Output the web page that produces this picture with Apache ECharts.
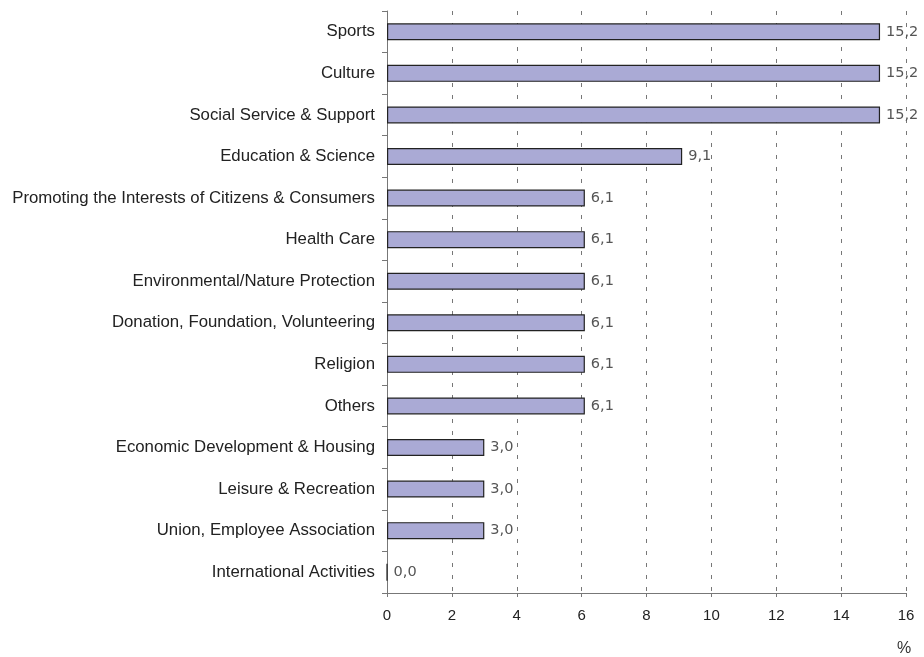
<!DOCTYPE html>
<html><head><meta charset="utf-8">
<script src="https://cdn.jsdelivr.net/npm/echarts@6/dist/echarts.min.js"></script>
<style>html,body{margin:0;padding:0;background:#fff}#c{width:924px;height:657px}</style>
</head><body><div id="c"></div>
<script>
const categories = ["Sports","Culture","Social Service & Support","Education & Science","Promoting the Interests of Citizens & Consumers","Health Care","Environmental/Nature Protection","Donation, Foundation, Volunteering","Religion","Others","Economic Development & Housing","Leisure & Recreation","Union, Employee Association","International Activities"];
const values = [15.2,15.2,15.2,9.1,6.1,6.1,6.1,6.1,6.1,6.1,3.0,3.0,3.0,0.0];
const xTicks = [0,2,4,6,8,10,12,14,16];
const unitLabel = "%";

const chart = echarts.init(document.getElementById('c'));
chart.setOption({
  animation:false,
  grid:{left:387,right:18,top:11,bottom:64,containLabel:false,outerBoundsMode:'none'},
  xAxis:{type:'value',min:xTicks[0],max:xTicks[xTicks.length-1],interval:2,
    axisLine:{show:true,lineStyle:{color:'#777',width:1}},
    axisTick:{show:true,length:4,lineStyle:{color:'#777'}},
    axisLabel:{color:'#222',fontFamily:'Liberation Sans',fontSize:15,margin:15},
    splitLine:{show:true,lineStyle:{color:'#777',type:[4,8],width:1}}
  },
  yAxis:{type:'category',inverse:true,data:categories,
    axisLine:{show:true,lineStyle:{color:'#777',width:1}},
    axisTick:{show:true,length:5,lineStyle:{color:'#777'}},
    axisLabel:{color:'#222',fontFamily:'Liberation Sans',fontSize:16.8,margin:12},
    splitLine:{show:false}
  },
  graphic:[{type:'text',left:897,top:641,style:{text:unitLabel,fill:'#333',font:'16px "Liberation Sans"'}}],
  series:[{type:'bar',data:values,barWidth:17,
    itemStyle:{color:'#AAAAD5',borderColor:'#222',borderWidth:1.2},
    label:{show:true,position:'right',distance:6,color:'#555',fontFamily:'DejaVu Sans',fontSize:14.5,
      formatter:p=>p.value.toFixed(1).replace('.',',')}
  }]
});
</script></body></html>
